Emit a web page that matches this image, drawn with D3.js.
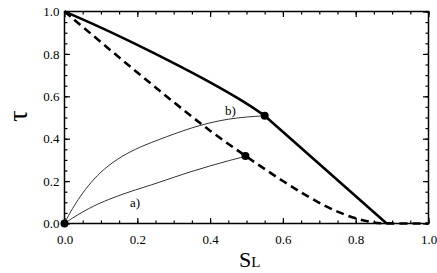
<!DOCTYPE html>
<html>
<head>
<meta charset="utf-8">
<script src="https://cdn.jsdelivr.net/npm/d3@7"></script>
<style>
  body { margin: 0; background: #fff; }
</style>
</head>
<body>
<div id="chart"></div>
<script>
const width = 437;
const height = 273;
const margin = { top: 11.5, right: 8.5, bottom: 49.5, left: 64.5 };
const serif = "'Liberation Serif', 'Times New Roman', 'DejaVu Serif', serif";

// curve data
const solidCurve = [[0, 1], [0.1, 0.925], [0.2, 0.843], [0.3, 0.757], [0.4, 0.667], [0.5, 0.568], [0.55, 0.508]];
const solidTail = [[0.55, 0.508], [0.885, 0]];
const dashedCurve = [[0, 1], [0.1, 0.855], [0.2, 0.712], [0.3, 0.572], [0.4, 0.435], [0.5, 0.315], [0.6, 0.198], [0.7, 0.095], [0.75, 0.055], [0.8, 0.022], [0.85, 0.003], [0.88, 0], [1.0, 0]];
const curveB = [[0, 0], [0.01, 0.035], [0.025, 0.08], [0.05, 0.145], [0.08, 0.21], [0.12, 0.275], [0.17, 0.331], [0.22, 0.37], [0.26, 0.396], [0.3, 0.422], [0.35, 0.452], [0.4, 0.476], [0.45, 0.493], [0.5, 0.503], [0.55, 0.508]];
const curveA = [[0, 0], [0.02, 0.024], [0.05, 0.055], [0.08, 0.083], [0.12, 0.113], [0.17, 0.145], [0.22, 0.172], [0.26, 0.194], [0.3, 0.218], [0.35, 0.246], [0.4, 0.272], [0.45, 0.296], [0.5, 0.318]];
const dots = [[0, 0], [0.55, 0.508], [0.497, 0.318]];
const labels = [{ text: "a)", x: 0.18, y: 0.078 }, { text: "b)", x: 0.441, y: 0.512 }];
const majorTicks = [0, 0.2, 0.4, 0.6, 0.8, 1.0];
const minorTicks = d3.range(0, 1.0001, 0.05);

const svg = d3.select("#chart")
  .append("svg")
  .attr("width", width)
  .attr("height", height)
  .attr("font-family", serif);

const x = d3.scaleLinear().domain([0, 1]).range([margin.left, width - margin.right]);
const y = d3.scaleLinear().domain([0, 1]).range([height - margin.bottom, margin.top]);

const smooth = d3.line()
  .x(d => x(d[0]))
  .y(d => y(d[1]))
  .curve(d3.curveBasis);

const straight = d3.line()
  .x(d => x(d[0]))
  .y(d => y(d[1]));

// ticks inside on all four sides
function ticks(axis, pos, len, vals, fmt, horiz) {
  const g = svg.append("g")
    .attr("transform", pos)
    .call(axis.tickValues(vals).tickSizeInner(len).tickSizeOuter(0).tickFormat(fmt));
  g.attr("font-family", serif).attr("font-size", 13);
  g.select(".domain").remove();
  g.selectAll("line").attr("stroke", "#000").attr("stroke-width", 1.2);
  g.selectAll("text").attr("fill", "#000");
  if (horiz) g.selectAll("text").attr("y", 11).attr("dy", "0.71em");
  else g.selectAll("text").attr("x", -5).attr("dy", "0.32em");
}
const f = d3.format(".1f");
const none = () => "";
ticks(d3.axisBottom(x), `translate(0,${y(0)})`, -3, minorTicks, none, true);
ticks(d3.axisBottom(x), `translate(0,${y(0)})`, -5.5, majorTicks, f, true);
ticks(d3.axisTop(x), `translate(0,${y(1)})`, -3, minorTicks, none, true);
ticks(d3.axisTop(x), `translate(0,${y(1)})`, -5.5, majorTicks, none, true);
ticks(d3.axisLeft(y), `translate(${x(0)},0)`, -3, minorTicks, none, false);
ticks(d3.axisLeft(y), `translate(${x(0)},0)`, -5.5, majorTicks, f, false);
ticks(d3.axisRight(y), `translate(${x(1)},0)`, -3, minorTicks, none, false);
ticks(d3.axisRight(y), `translate(${x(1)},0)`, -5.5, majorTicks, none, false);

svg.append("rect")
  .attr("x", x(0)).attr("y", y(1))
  .attr("width", x(1) - x(0)).attr("height", y(0) - y(1))
  .attr("fill", "none").attr("stroke", "#000").attr("stroke-width", 1.5);

svg.append("path").datum(curveB).attr("d", smooth)
  .attr("fill", "none").attr("stroke", "#333").attr("stroke-width", 1);
svg.append("path").datum(curveA).attr("d", smooth)
  .attr("fill", "none").attr("stroke", "#333").attr("stroke-width", 1);

svg.append("path")
  .attr("d", smooth(solidCurve) + straight(solidTail).replace("M", "L"))
  .attr("fill", "none").attr("stroke", "#000").attr("stroke-width", 2.6);

svg.append("path").datum(dashedCurve).attr("d", smooth)
  .attr("fill", "none").attr("stroke", "#000").attr("stroke-width", 2.6)
  .attr("stroke-dasharray", "8,5");

svg.selectAll("circle")
  .data(dots)
  .enter()
  .append("circle")
  .attr("cx", d => x(d[0]))
  .attr("cy", d => y(d[1]))
  .attr("r", 4)
  .attr("fill", "#000");

svg.selectAll(".lbl")
  .data(labels)
  .enter()
  .append("text")
  .attr("class", "lbl")
  .attr("x", d => x(d.x))
  .attr("y", d => y(d.y))
  .attr("font-size", 13)
  .text(d => d.text);

svg.append("text")
  .attr("transform", `translate(27,116) rotate(-90)`)
  .attr("text-anchor", "middle")
  .attr("font-size", 28)
  .text("τ");

const xt = svg.append("text")
  .attr("x", 239)
  .attr("y", 267)
  .attr("font-size", 22)
  .text("S");
xt.append("tspan").attr("font-size", 15).text("L");
</script>
</body>
</html>
